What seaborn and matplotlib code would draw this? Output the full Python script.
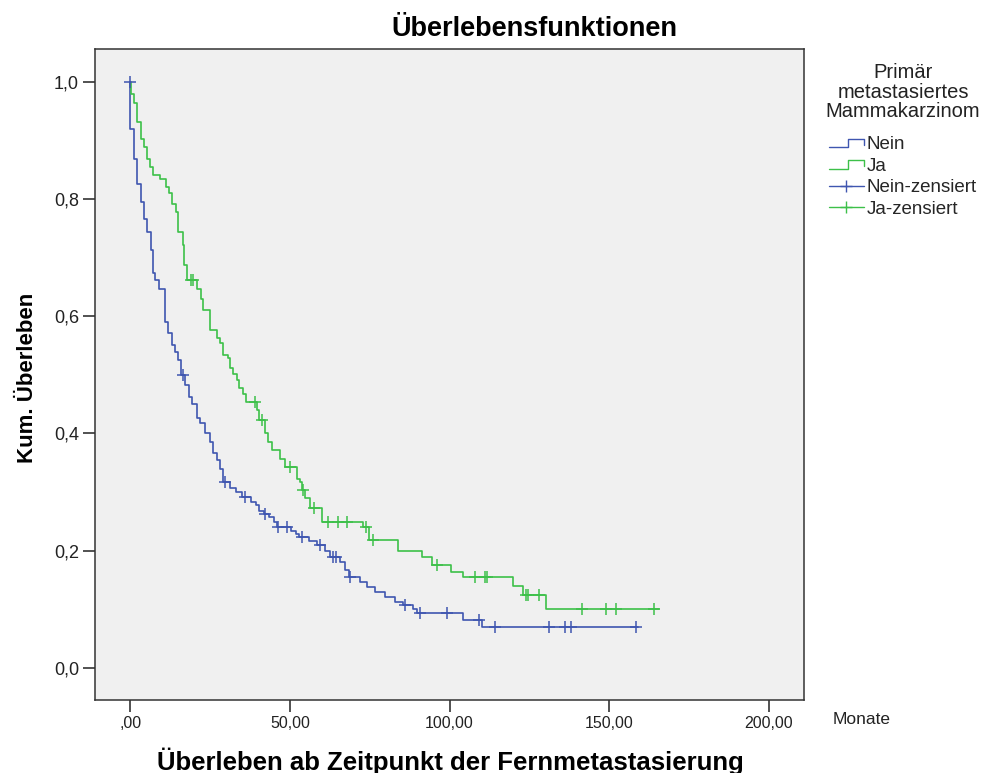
import numpy as np
import pandas as pd
import matplotlib
matplotlib.use("Agg")
import matplotlib.pyplot as plt
import seaborn as sns
from matplotlib.lines import Line2D
from matplotlib.legend_handler import HandlerBase
from matplotlib.ticker import FixedLocator
from matplotlib import font_manager as fm

# ---------------- data ----------------
nein_t = [0, 0, 1.3, 2.3, 3.3, 4.4, 5.4, 6.5, 7.2, 7.8, 8.9, 11.0, 12.0, 13.0, 14.1,
          15.1, 16.0, 17.2, 18.3, 19.3, 20.9, 21.9, 23.5, 25.0, 26.1, 27.1, 28.2, 29.2,
          31.3, 33.0, 35.0, 38.0, 39.5, 40.5, 42.0, 43.5, 45.0, 46.0, 50.5, 52.0, 53.0,
          56.0, 58.4, 61.0, 62.6, 65.7, 67.3, 68.5, 72.0, 74.1, 76.7, 79.8, 83.0, 85.5,
          88.7, 89.7, 104.2, 110.3, 159.0]
nein_s = [1.0, 0.920, 0.868, 0.825, 0.795, 0.766, 0.743, 0.713, 0.673, 0.662, 0.647,
          0.590, 0.571, 0.551, 0.539, 0.525, 0.500, 0.482, 0.462, 0.451, 0.426, 0.417,
          0.400, 0.386, 0.366, 0.354, 0.340, 0.317, 0.306, 0.300, 0.292, 0.283, 0.277,
          0.268, 0.263, 0.257, 0.249, 0.241, 0.234, 0.229, 0.224, 0.216, 0.209, 0.200,
          0.189, 0.181, 0.167, 0.155, 0.147, 0.138, 0.130, 0.121, 0.113, 0.107, 0.101,
          0.093, 0.081, 0.070, 0.070]
nein_cens_t = [0, 16.5, 29.7, 36.0, 42.3, 46.4, 49.0, 53.7, 59.5, 63.6, 64.5, 68.9,
               86.1, 90.9, 99.1, 109.2, 114.2, 131.0, 136.2, 138.2, 158.5]
nein_cens_s = [1.0, 0.500, 0.317, 0.292, 0.263, 0.241, 0.241, 0.224, 0.209, 0.189,
               0.189, 0.155, 0.107, 0.093, 0.093, 0.081, 0.070, 0.070, 0.070, 0.070,
               0.070]

ja_t = [0, 0.2, 1.25, 2.3, 3.3, 4.4, 5.2, 6.3, 7.3, 9.4, 11.1, 12.2, 13.2, 14.3, 15.1,
        16.4, 17.0, 17.9, 20.9, 22.1, 22.9, 25.0, 27.1, 28.2, 29.0, 30.5, 31.3, 32.3,
        33.4, 34.2, 35.3, 36.3, 39.8, 40.5, 42.3, 43.3, 44.3, 46.9, 48.5, 52.2, 53.2,
        53.8, 54.8, 56.3, 60.0, 73.0, 74.9, 84.0, 91.3, 94.4, 100.6, 104.3, 120.0,
        123.1, 130.2, 165.5]
ja_s = [1.0, 0.980, 0.964, 0.931, 0.902, 0.888, 0.868, 0.854, 0.841, 0.834, 0.820,
        0.811, 0.791, 0.777, 0.743, 0.722, 0.687, 0.662, 0.646, 0.630, 0.610, 0.576,
        0.562, 0.554, 0.534, 0.528, 0.511, 0.502, 0.491, 0.477, 0.468, 0.454, 0.440,
        0.423, 0.400, 0.386, 0.371, 0.357, 0.342, 0.323, 0.317, 0.304, 0.289, 0.272,
        0.249, 0.241, 0.218, 0.200, 0.189, 0.176, 0.164, 0.155, 0.139, 0.124, 0.0996,
        0.0996]
ja_cens_t = [19.0, 19.8, 39.1, 41.2, 50.0, 54.0, 57.5, 62.0, 65.0, 68.0, 74.0, 76.0,
             96.0, 108.0, 111.0, 111.6, 124.0, 124.6, 128.0, 141.4, 149.0, 152.1, 164.1]
ja_cens_s = [0.662, 0.662, 0.454, 0.423, 0.342, 0.304, 0.272, 0.249, 0.249, 0.249,
             0.241, 0.218, 0.176, 0.155, 0.155, 0.155, 0.124, 0.124, 0.124, 0.0996,
             0.0996, 0.0996, 0.0996]

x_ticks = [0, 50, 100, 150, 200]
x_tick_labels = [",00", "50,00", "100,00", "150,00", "200,00"]
y_ticks = [0.0, 0.2, 0.4, 0.6, 0.8, 1.0]
y_tick_labels = ["0,0", "0,2", "0,4", "0,6", "0,8", "1,0"]
group_labels = ["Nein", "Ja", "Nein-zensiert", "Ja-zensiert"]
legend_title = "Primär\nmetastasiertes\nMammakarzinom"

BLUE = "#3F56B0"
GREEN = "#3DC049"

# ---------------- style ----------------
sns.set_theme(style="ticks")
plt.rcParams["font.family"] = ["Liberation Sans", "DejaVu Sans"]
_names = {f.name for f in fm.fontManager.ttflist}
if "Liberation Sans Narrow" in _names:
    NARROW = ["Liberation Sans Narrow"]
    narrow_scale = 1.15
else:
    NARROW = ["Liberation Sans", "DejaVu Sans"]
    narrow_scale = 1.0

fig = plt.figure(figsize=(9.92, 7.73), dpi=100)
fig.patch.set_facecolor("white")
ax = fig.add_axes([95 / 992, 1 - 700 / 773, (804 - 95) / 992, (700 - 49) / 773])
ax.set_facecolor("#F0F0F0")

df_nein = pd.DataFrame({"t": nein_t, "s": nein_s})
df_ja = pd.DataFrame({"t": ja_t, "s": ja_s})
sns.lineplot(data=df_nein, x="t", y="s", drawstyle="steps-post", estimator=None,
             sort=False, color=BLUE, linewidth=1.2, ax=ax)
sns.lineplot(data=df_ja, x="t", y="s", drawstyle="steps-post", estimator=None,
             sort=False, color=GREEN, linewidth=1.2, ax=ax)
sns.scatterplot(x=nein_cens_t, y=nein_cens_s, marker="+", s=75, color=BLUE,
                linewidth=1.1, ax=ax, zorder=3)
sns.scatterplot(x=ja_cens_t, y=ja_cens_s, marker="+", s=75, color=GREEN,
                linewidth=1.1, ax=ax, zorder=3)

ax.set_xlim(-11, 211)
ax.set_ylim(-0.055, 1.056)
ax.xaxis.set_major_locator(FixedLocator(x_ticks))
ax.yaxis.set_major_locator(FixedLocator(y_ticks))
ax.set_xticklabels(x_tick_labels, fontsize=11.5 * narrow_scale, family=NARROW)
ax.set_yticklabels(y_tick_labels, fontsize=13)
ax.tick_params(axis="both", direction="out", length=8.5, width=1.1, color="#222222",
               pad=3, labelcolor="#222222")
ax.set_xlabel("")
ax.set_ylabel("")
for sp in ax.spines.values():
    sp.set_visible(True)
    sp.set_linewidth(1.1)
    sp.set_color("#333333")

fig.text(450 / 992, 1 - 761 / 773, "Überleben ab Zeitpunkt der Fernmetastasierung",
         fontsize=18.5 * narrow_scale, fontweight="bold", family=NARROW,
         ha="center", va="center", color="black")
fig.text(28 / 992, 1 - 378 / 773, "Kum. Überleben", fontsize=16, fontweight="bold",
         rotation=90, ha="center", va="center", color="black")
fig.text(534 / 992, 1 - 29 / 773, "Überlebensfunktionen", fontsize=19.5,
         fontweight="bold", ha="center", va="center", color="black")
fig.text(862 / 992, 1 - 720 / 773, "Monate", fontsize=12.5 * narrow_scale,
         family=NARROW, ha="center", va="center", color="#222222")


# ---------------- legend ----------------
class StepHandler(HandlerBase):
    def create_artists(self, legend, orig_handle, xdescent, ydescent, width, height,
                       fontsize, trans):
        x0, y0 = -xdescent, -ydescent
        xs = [x0, x0 + 0.55 * width, x0 + 0.55 * width, x0 + width, x0 + width]
        ys = [y0 + 0.15 * height, y0 + 0.15 * height, y0 + 0.8 * height,
              y0 + 0.8 * height, y0 + 0.35 * height]
        ln = Line2D(xs, ys, color=orig_handle.get_color(), lw=1.0)
        ln.set_transform(trans)
        return [ln]


h_nein = Line2D([], [], color=BLUE)
h_ja = Line2D([], [], color=GREEN)
h_nc = Line2D([], [], color=BLUE, marker="+", markersize=9, markeredgewidth=1.0, lw=1.0)
h_jc = Line2D([], [], color=GREEN, marker="+", markersize=9, markeredgewidth=1.0, lw=1.0)

fig.text(903 / 992, 1 - 92 / 773, legend_title, fontsize=14.5, ha="center",
         va="center", linespacing=1.06, color="#222222")
ax.legend([h_nein, h_ja, h_nc, h_jc], group_labels,
          handler_map={h_nein: StepHandler(), h_ja: StepHandler()},
          loc="upper left", bbox_to_anchor=(829 / 992, 1 - 136 / 773),
          bbox_transform=fig.transFigure, frameon=False, fontsize=13.5,
          handlelength=1.85, handletextpad=0.15, labelspacing=0.24, borderpad=0,
          borderaxespad=0)

fig.savefig("out.png", dpi=100, facecolor="white")
